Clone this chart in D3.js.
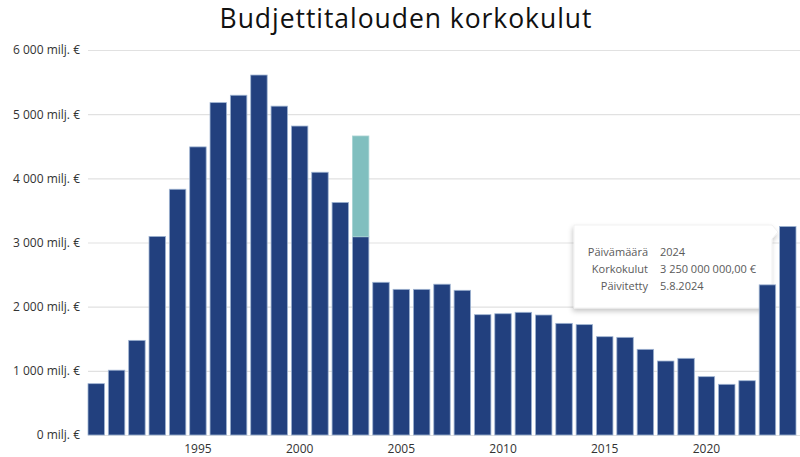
<!DOCTYPE html>
<html><head><meta charset="utf-8">
<script src="https://cdn.jsdelivr.net/npm/d3@7"></script>
<style>body{margin:0;background:#fff;} svg{display:block;font-family:"Open Sans",sans-serif;}</style>
</head><body>
<svg id="c" width="800" height="457"></svg>
<script>
const years = d3.range(1990, 2025);
const korkokulut = [800,1010,1475,3095,3830,4490,5180,5295,5610,5125,4815,4095,3625,3090,2380,
  2270,2270,2350,2255,1875,1890,1912,1870,1740,1720,1532,1522,1335,1153,1195,909,790,846,2340,3250];
const extra = years.map(y => y === 2003 ? 1570 : 0);
const yTicks = [0,1000,2000,3000,4000,5000,6000];
const xTickYears = [1995,2000,2005,2010,2015,2020];
const tooltipRows = [["Päivämäärä","2024"],["Korkokulut","3 250 000 000,00 €"],["Päivitetty","5.8.2024"]];
const title = "Budjettitalouden korkokulut";

const svg = d3.select("#c");
const x = d3.scaleBand().domain(years).range([88,796]).paddingInner(0.19).paddingOuter(0);
const y = d3.scaleLinear().domain([0,6000]).range([435,50]);
const fmt = v => d3.format(",")(v).replace(/,/g," ") + " milj. €";

// title
svg.append("text").attr("x",406).attr("y",28).attr("text-anchor","middle")
  .attr("font-size",26.5).attr("letter-spacing",0.95).attr("fill","#111").text(title);

// gridlines + y labels
const yAxis = svg.append("g").attr("transform","translate(88,0)")
  .call(d3.axisLeft(y).tickValues(yTicks).tickSize(-712).tickFormat(fmt).tickPadding(8));
yAxis.select(".domain").remove();
yAxis.selectAll("line").attr("stroke","#e1e1e1").attr("stroke-width",1.2);
yAxis.selectAll("text").attr("font-size",12).attr("fill","#333").attr("font-family","'Open Sans',sans-serif");

// x labels
const xAxis = svg.append("g").attr("transform","translate(0,435)")
  .call(d3.axisBottom(x).tickValues(xTickYears).tickSize(0).tickPadding(9));
xAxis.select(".domain").remove();
xAxis.selectAll("text").attr("font-size",12).attr("fill","#333").attr("font-family","'Open Sans',sans-serif");

// tooltip (behind bars)
const defs = svg.append("defs");
const f = defs.append("filter").attr("id","sh").attr("x","-10%").attr("y","-10%").attr("width","125%").attr("height","130%");
f.append("feDropShadow").attr("dx",-1).attr("dy",3).attr("stdDeviation",2.5).attr("flood-color","#000").attr("flood-opacity",0.22);
const tx0 = 574, ty0 = 225, tx1 = 772, ty1 = 308;
svg.append("path").attr("filter","url(#sh)").attr("fill","#fff").attr("stroke","#eee").attr("stroke-width",0.8)
  .attr("d",`M${tx0},${ty0}H${tx1}L${tx1+6},${ty0+7}L${tx1},${ty0+14}V${ty1}H${tx0}Z`);
const tg = svg.append("g").attr("font-size",11).attr("fill","#5a5a5a");
tooltipRows.forEach((r,i) => {
  tg.append("text").attr("x",648).attr("y",256+i*17).attr("text-anchor","end").text(r[0]);
  tg.append("text").attr("x",660).attr("y",256+i*17).text(r[1]);
});

// bars
const bars = svg.append("g");
bars.selectAll("rect.main").data(years).join("rect").attr("class","main")
  .attr("x",d=>x(d)).attr("width",x.bandwidth())
  .attr("y",(d,i)=>y(korkokulut[i])).attr("height",(d,i)=>y(0)-y(korkokulut[i]))
  .attr("fill","#22407e").attr("stroke","#9fb4d2").attr("stroke-width",0.8);
bars.selectAll("rect.extra").data(years.filter((d,i)=>extra[i]>0)).join("rect").attr("class","extra")
  .attr("x",d=>x(d)).attr("width",x.bandwidth())
  .attr("y",d=>{const i=years.indexOf(d);return y(korkokulut[i]+extra[i]);})
  .attr("height",d=>{const i=years.indexOf(d);return y(korkokulut[i])-y(korkokulut[i]+extra[i]);})
  .attr("fill","#80bfbf").attr("stroke","#a9d4d4").attr("stroke-width",0.8);
</script>
</body></html>
